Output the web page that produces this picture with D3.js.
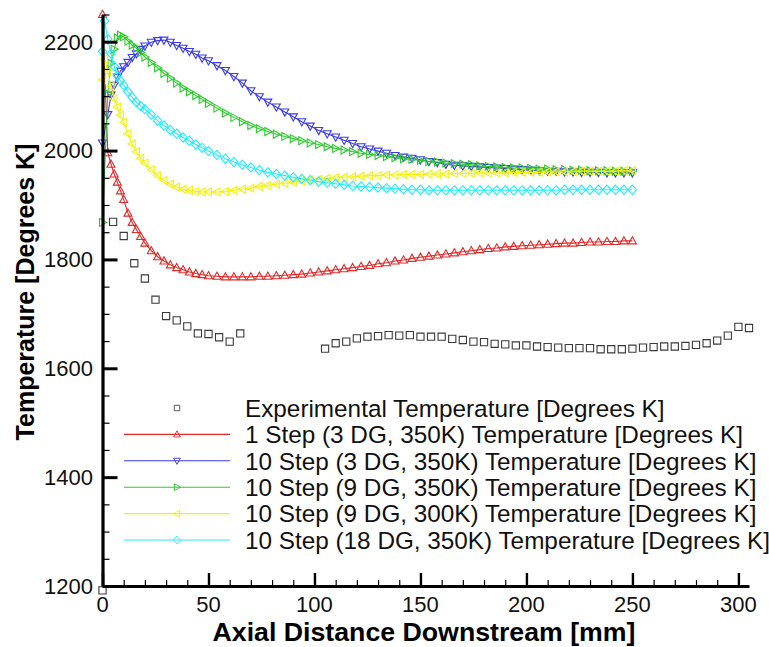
<!DOCTYPE html>
<html><head><meta charset="utf-8">
<script src="https://cdn.jsdelivr.net/npm/d3@7/dist/d3.min.js"></script>
<style>
body{margin:0;background:#fff}
svg{display:block;font-family:"Liberation Sans",Arial,Helvetica,sans-serif}
</style>
</head><body>
<svg id="c" width="769" height="647"></svg>
<script>
// ---------------- data ----------------
const axialGrid = [0, 1, 2.5, 4, 5.5, 7, 8.5, 10, 12, 14, 16, 18, 20, 23, 26, 29, 32, 35, 38, 41, 44, 47, 50,
  54, 58, 62, 66, 70, 74, 78, 82, 86, 90, 94, 98, 102, 106, 110, 114, 118, 122, 126, 130, 134, 138, 142, 146, 150,
  154, 158, 162, 166, 170, 174, 178, 182, 186, 190, 194, 198, 202, 206, 210, 214, 218, 222, 226, 230, 234, 238, 242, 246, 250];

const step1_3DG_350 = [2250, null, 1996, 1975, 1957, 1942, 1926, 1910, 1885, 1868, 1855, 1842, 1830, 1816, 1805, 1797, 1790, 1785, 1781, 1777, 1774, 1772, 1770,
  1769, 1768, 1768, 1768, 1768, 1769, 1769, 1770, 1771, 1772, 1773, 1775, 1777, 1779, 1781, 1783, 1785, 1787, 1789, 1792, 1794, 1797, 1799, 1802, 1804,
  1806, 1808, 1810, 1812, 1814, 1816, 1818, 1820, 1821, 1823, 1824, 1825, 1826, 1827, 1828, 1829, 1830, 1830, 1831, 1832, 1832, 1833, 1833, 1834, 1834];

const step10_3DG_350 = [2014, null, 2066, 2102, 2120, 2135, 2146, 2154, 2162, 2171, 2178, 2186, 2192, 2199, 2202, 2203, 2199, 2193, 2188, 2182, 2177, 2170, 2165,
  2156, 2147, 2136, 2124, 2110, 2099, 2089, 2080, 2071, 2062, 2053, 2045, 2037, 2031, 2025, 2019, 2013, 2007, 2003, 1999, 1995, 1991, 1988, 1986, 1983,
  1980, 1978, 1975, 1973, 1972, 1971, 1970, 1969, 1968, 1967, 1966, 1965, 1964, 1963, 1962, 1962, 1961, 1961, 1960, 1960, 1960, 1959, 1959, 1959, 1959];

const step10_9DG_350 = [1868, null, 2105, 2160, 2186, 2207, 2212, 2209, 2201, 2194, 2188, 2180, 2172, 2162, 2152, 2142, 2133, 2124, 2115, 2108, 2101, 2094, 2087,
  2078, 2069, 2061, 2053, 2046, 2040, 2035, 2030, 2026, 2022, 2018, 2014, 2011, 2007, 2004, 2001, 1998, 1995, 1993, 1991, 1989, 1987, 1985, 1984, 1982,
  1980, 1979, 1977, 1976, 1975, 1974, 1972, 1971, 1970, 1969, 1968, 1968, 1967, 1966, 1966, 1965, 1965, 1964, 1964, 1963, 1963, 1963, 1962, 1962, 1962];

const step10_9DG_300 = [2130, 2168, 2145, 2118, 2095, 2080, 2065, 2052, 2031, 2012, 1998, 1986, 1977, 1965, 1954, 1945, 1938, 1933, 1929, 1927, 1925, 1924, 1924,
  1924, 1925, 1927, 1929, 1931, 1934, 1936, 1938, 1940, 1942, 1944, 1946, 1947, 1949, 1950, 1951, 1952, 1953, 1954, 1954, 1955, 1955, 1956, 1956, 1956,
  1957, 1957, 1957, 1958, 1958, 1958, 1959, 1959, 1959, 1959, 1960, 1960, 1960, 1960, 1961, 1961, 1961, 1961, 1962, 1962, 1962, 1962, 1962, 1963, 1963];

const step10_18DG_350 = [2182, 2238, 2205, 2178, 2155, 2138, 2128, 2120, 2108, 2098, 2089, 2082, 2076, 2066, 2055, 2046, 2038, 2031, 2024, 2018, 2011, 2005, 1999,
  1992, 1985, 1979, 1974, 1969, 1964, 1960, 1957, 1954, 1951, 1948, 1946, 1943, 1941, 1939, 1937, 1935, 1934, 1933, 1932, 1931, 1930, 1929, 1928, 1928,
  1927, 1927, 1927, 1927, 1927, 1927, 1927, 1927, 1927, 1927, 1927, 1927, 1927, 1927, 1927, 1927, 1928, 1928, 1928, 1928, 1928, 1928, 1928, 1928, 1928];

const expAxial = [0, 5, 10, 15, 20, 25, 30, 35, 40, 45, 50, 55, 60, 65,
  105, 110, 115, 120, 125, 130, 135, 140, 145, 150, 155, 160, 165, 170, 175, 180, 185, 190, 195, 200,
  205, 210, 215, 220, 225, 230, 235, 240, 245, 250, 255, 260, 265, 270, 275, 280, 285, 290, 295, 300, 305];
const expTemp = [1192, 1869, 1843, 1793, 1765, 1726, 1696, 1688, 1677, 1664, 1663, 1657, 1649, 1664,
  1636, 1646, 1649, 1655, 1658, 1659, 1661, 1660, 1661, 1658, 1658, 1658, 1654, 1652, 1649, 1648, 1645, 1644, 1642, 1642,
  1640, 1639, 1638, 1637, 1637, 1637, 1635, 1635, 1635, 1636, 1638, 1639, 1640, 1640, 1641, 1643, 1646, 1651, 1660, 1676, 1674];

const legendLabels = [
  "Experimental Temperature [Degrees K]",
  "1 Step (3 DG, 350K) Temperature [Degrees K]",
  "10 Step (3 DG, 350K) Temperature [Degrees K]",
  "10 Step (9 DG, 350K) Temperature [Degrees K]",
  "10 Step (9 DG, 300K) Temperature [Degrees K]",
  "10 Step (18 DG, 350K) Temperature [Degrees K]"
];
const xTickLabels = [0, 50, 100, 150, 200, 250, 300];
const yTickLabels = [1200, 1400, 1600, 1800, 2000, 2200];
const xTitle = "Axial Distance Downstream [mm]";
const yTitle = "Temperature [Degrees K]";

// ---------------- drawing ----------------
const svg = d3.select("#c");
const x = d3.scaleLinear().domain([0, 305]).range([102.5, 749]);
const y = d3.scaleLinear().domain([1200, 2250]).range([586, 14.5]);

const shapes = {
  square: "M-3.6,-3.6H3.6V3.6H-3.6Z",
  up: "M0,-4.2L4,3L-4,3Z",
  down: "M0,4.2L4,-3L-4,-3Z",
  right: "M4.2,0L-3,-4L-3,4Z",
  left: "M-4.2,0L3,-4L3,4Z",
  diamond: "M0,-4.6L4.2,0L0,4.6L-4.2,0Z"
};

const series = [
  {vals: step1_3DG_350, color: "#e02a2a", shape: "up"},
  {vals: step10_3DG_350, color: "#3b3be8", shape: "down"},
  {vals: step10_9DG_350, color: "#2fc92f", shape: "right"},
  {vals: step10_9DG_300, color: "#f2f20c", shape: "left"},
  {vals: step10_18DG_350, color: "#22ecff", shape: "diamond"}
];

const plot = svg.append("g");

// experimental squares
plot.append("g").selectAll("path").data(expAxial.map((a, i) => [a, expTemp[i]])).join("path")
  .attr("d", shapes.square)
  .attr("transform", d => `translate(${x(d[0])},${y(d[1])})`)
  .attr("fill", "none").attr("stroke", "#3a3a3a").attr("stroke-width", 1.1);

const line = d3.line().x(d => x(d[0])).y(d => y(d[1]));
series.forEach(s => {
  const pts = axialGrid.map((a, i) => [a, s.vals[i]]).filter(d => d[1] != null);
  const g = plot.append("g");
  g.append("path").attr("d", line(pts)).attr("fill", "none").attr("stroke", s.color).attr("stroke-width", 1.1);
  g.selectAll("path.m").data(pts).join("path").attr("class", "m")
    .attr("d", shapes[s.shape])
    .attr("transform", d => `translate(${x(d[0])},${y(d[1])})`)
    .attr("fill", "none").attr("stroke", s.color).attr("stroke-width", 1.1);
});

// axes
const yMinor = d3.range(1250, 2251, 50).filter(v => v % 200 !== 0);
const xMinor = d3.range(10, 305, 10).filter(v => v % 50 !== 0);

const yAxG = svg.append("g").attr("transform", "translate(102.5,0)");
yAxG.call(d3.axisRight(y).tickValues(yMinor).tickSize(7).tickSizeOuter(0).tickFormat(""));
yAxG.selectAll(".tick line").attr("stroke", "#000").attr("stroke-width", 1.2);
yAxG.select(".domain").remove();
const yAxG2 = svg.append("g").attr("transform", "translate(102.5,0)");
yAxG2.call(d3.axisRight(y).tickValues(yTickLabels).tickSize(15).tickSizeOuter(0).tickFormat(""));
yAxG2.selectAll(".tick line").attr("stroke", "#000").attr("stroke-width", 3);
yAxG2.select(".domain").attr("stroke", "#000").attr("stroke-width", 3.2);

const xAxG = svg.append("g").attr("transform", "translate(0,586)");
xAxG.call(d3.axisTop(x).tickValues(xMinor).tickSize(6).tickSizeOuter(0).tickFormat(""));
xAxG.selectAll(".tick line").attr("stroke", "#000").attr("stroke-width", 1.2);
xAxG.select(".domain").remove();
const xAxG2 = svg.append("g").attr("transform", "translate(0,586)");
xAxG2.call(d3.axisTop(x).tickValues(xTickLabels).tickSize(13).tickSizeOuter(0).tickFormat(""));
xAxG2.selectAll(".tick line").attr("stroke", "#000").attr("stroke-width", 2.4);
xAxG2.select(".domain").attr("stroke", "#000").attr("stroke-width", 3.2);

// tick labels
svg.append("g").selectAll("text").data(yTickLabels).join("text")
  .attr("x", 93).attr("y", d => y(d)).attr("dy", "0.36em")
  .attr("text-anchor", "end").attr("font-size", 22).attr("fill", "#111").text(d => d);
svg.append("g").selectAll("text").data(xTickLabels).join("text")
  .attr("x", d => x(d)).attr("y", 612)
  .attr("text-anchor", "middle").attr("font-size", 22).attr("fill", "#111").text(d => d);

// titles
svg.append("text").attr("x", 424).attr("y", 641).attr("text-anchor", "middle")
  .attr("font-size", 25).attr("font-weight", "bold").attr("fill", "#000")
  .attr("textLength", 423).attr("lengthAdjust", "spacingAndGlyphs").text(xTitle);
svg.append("text").attr("transform", "translate(34,292) rotate(-90)").attr("text-anchor", "middle")
  .attr("font-size", 25).attr("font-weight", "bold").attr("fill", "#000").text(yTitle);

// legend
const leg = svg.append("g");
const legItems = [{color: "#3a3a3a", shape: "square", noLine: true}].concat(series);
legItems.forEach((s, i) => {
  const ly = 408 + i * 26.4;
  if (!s.noLine) {
    leg.append("line").attr("x1", 124).attr("x2", 230).attr("y1", ly).attr("y2", ly)
      .attr("stroke", s.color).attr("stroke-width", 1.1);
  }
  leg.append("path").attr("d", shapes[s.shape])
    .attr("transform", `translate(177,${ly}) scale(${s.noLine ? 0.75 : 0.85})`)
    .attr("fill", "none").attr("stroke", s.color).attr("stroke-width", 1.1);
  leg.append("text").attr("x", 245).attr("y", ly).attr("dy", "0.36em")
    .attr("font-size", 24.3).attr("fill", "#111").text(legendLabels[i]);
});
</script>
</body></html>
